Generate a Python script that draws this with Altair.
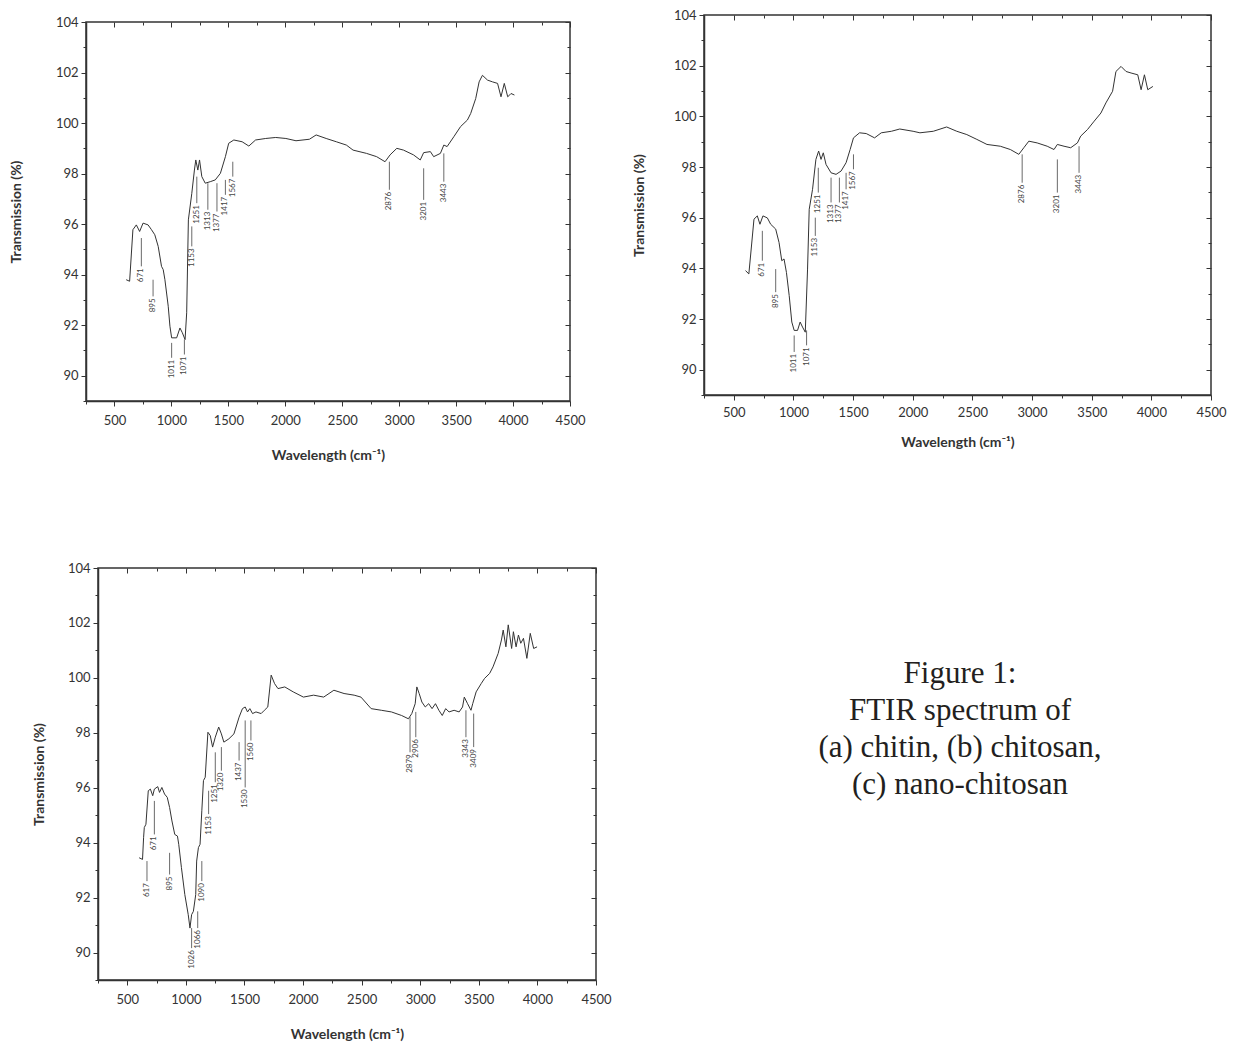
import altair as alt
import pandas as pd

# ---------------- (a) chitin ----------------
a_wn = [603, 633, 662, 692, 721, 751, 795, 825, 854, 884, 913, 928, 943, 972, 987, 1002, 1046, 1075, 1096, 1120,
        1134, 1149, 1179, 1202, 1214, 1232, 1247, 1267, 1297, 1341, 1385, 1430, 1474, 1503, 1548, 1621, 1680, 1739,
        1828, 1916, 2005, 2094, 2212, 2271, 2359, 2448, 2536, 2595, 2713, 2802, 2876, 2920, 2979, 3038, 3126, 3185,
        3215, 3274, 3303, 3362, 3392, 3421, 3480, 3539, 3599, 3628, 3672, 3702, 3731, 3776, 3820, 3864, 3894, 3923,
        3953, 3982, 4012]
a_t = [93.80, 93.74, 95.78, 95.97, 95.71, 96.04, 95.97, 95.78, 95.58, 95.12, 94.33, 94.20, 93.80, 92.75, 91.96,
       91.50, 91.50, 91.89, 91.70, 91.43, 92.49, 96.17, 97.22, 98.14, 98.54, 98.14, 98.54, 97.88, 97.62, 97.68,
       97.75, 98.01, 98.67, 99.20, 99.33, 99.26, 99.09, 99.33, 99.39, 99.43, 99.39, 99.30, 99.36, 99.53, 99.39,
       99.26, 99.13, 98.93, 98.80, 98.67, 98.47, 98.74, 99.00, 98.93, 98.74, 98.54, 98.83, 98.87, 98.67, 98.80,
       99.13, 99.07, 99.46, 99.86, 100.12, 100.38, 100.97, 101.63, 101.89, 101.70, 101.63, 101.57, 101.04, 101.57,
       101.04, 101.17, 101.11]
a_lab = ["671", "895", "1011", "1071", "1153", "1251", "1313", "1377", "1417", "1567", "2876", "3201", "3443"]
a_lab_wn = [736, 839, 1002, 1114, 1179, 1223, 1320, 1400, 1474, 1539, 2914, 3215, 3392]
a_lab_top = [95.45, 93.80, 91.30, 91.43, 95.91, 97.88, 97.62, 97.62, 97.75, 98.47, 98.47, 98.21, 98.80]
a_lab_bot = [94.33, 93.14, 90.71, 90.84, 95.12, 96.83, 96.57, 96.50, 97.16, 97.88, 97.36, 96.96, 97.68]

# ---------------- (b) chitosan ----------------
b_wn = [598, 626, 669, 697, 719, 744, 781, 809, 851, 879, 902, 921, 941, 964, 986, 1006, 1034, 1056, 1076, 1099,
        1118, 1132, 1160, 1188, 1211, 1231, 1250, 1273, 1315, 1357, 1399, 1441, 1475, 1503, 1554, 1610, 1680, 1736,
        1821, 1891, 2003, 2060, 2172, 2284, 2369, 2453, 2537, 2622, 2734, 2818, 2889, 2931, 2973, 3043, 3127, 3184,
        3212, 3268, 3324, 3380, 3408, 3465, 3521, 3577, 3619, 3675, 3703, 3746, 3788, 3830, 3886, 3914, 3942, 3970,
        4013]
b_t = [93.91, 93.78, 95.94, 96.07, 95.74, 96.07, 95.99, 95.74, 95.55, 95.02, 94.30, 94.37, 93.84, 92.93, 91.88,
       91.55, 91.55, 91.88, 91.68, 91.48, 93.97, 96.33, 97.12, 98.30, 98.63, 98.30, 98.56, 98.10, 97.77, 97.71,
       97.84, 98.17, 98.69, 99.15, 99.35, 99.32, 99.15, 99.35, 99.41, 99.50, 99.41, 99.35, 99.41, 99.58, 99.41,
       99.28, 99.09, 98.89, 98.82, 98.69, 98.50, 98.76, 99.02, 98.95, 98.82, 98.69, 98.89, 98.82, 98.76, 98.95,
       99.22, 99.48, 99.81, 100.13, 100.53, 100.99, 101.77, 101.97, 101.77, 101.71, 101.64, 101.05, 101.64, 101.05,
       101.18]
b_lab = ["671", "895", "1011", "1071", "1153", "1251", "1313", "1377", "1417", "1567", "2876", "3201", "3443"]
b_lab_wn = [739, 851, 1006, 1110, 1183, 1208, 1315, 1385, 1441, 1503, 2917, 3212, 3394]
b_lab_top = [95.48, 93.97, 91.35, 91.55, 96.00, 97.97, 97.58, 97.58, 97.77, 98.50, 98.50, 98.30, 98.82]
b_lab_bot = [94.30, 93.06, 90.70, 90.96, 95.28, 96.99, 96.60, 96.60, 97.12, 97.91, 97.38, 96.99, 97.77]

# ---------------- (c) nano-chitosan ----------------
c_wn = [601, 630, 639, 645, 659, 679, 697, 717, 731, 760, 775, 795, 818, 841, 861, 881, 905, 928, 939, 962,
        991, 1020, 1035, 1049, 1064, 1084, 1092, 1107, 1121, 1136, 1150, 1165, 1188, 1208, 1228, 1251, 1280, 1303,
        1324, 1367, 1410, 1454, 1483, 1506, 1526, 1546, 1569, 1598, 1642, 1670, 1699, 1728, 1757, 1786, 1844, 1916,
        2003, 2090, 2176, 2263, 2350, 2436, 2494, 2581, 2668, 2754, 2841, 2899, 2928, 2957, 2971, 2991, 3014, 3043,
        3072, 3101, 3130, 3159, 3188, 3217, 3246, 3289, 3332, 3361, 3376, 3404, 3433, 3448, 3477, 3520, 3549, 3592,
        3621, 3665, 3693, 3708, 3731, 3751, 3780, 3795, 3818, 3838, 3858, 3881, 3910, 3939, 3968, 3997]
c_t = [93.45, 93.39, 94.18, 94.55, 94.67, 95.89, 95.95, 95.71, 95.95, 96.04, 95.83, 96.01, 95.77, 95.65, 95.28,
       94.79, 94.30, 94.24, 93.94, 93.09, 92.11, 91.38, 90.89, 91.38, 91.50, 92.11, 93.33, 93.82, 93.94, 95.16,
       96.26, 96.38, 98.02, 97.90, 97.48, 97.84, 98.21, 97.96, 97.66, 97.78, 97.96, 98.57, 98.88, 98.94, 98.76,
       98.88, 98.70, 98.76, 98.70, 98.82, 98.94, 100.10, 99.79, 99.61, 99.67, 99.49, 99.30, 99.37, 99.30, 99.55,
       99.43, 99.37, 99.30, 98.88, 98.82, 98.76, 98.63, 98.51, 98.70, 99.06, 99.67, 99.43, 99.12, 98.94, 99.06,
       98.88, 99.06, 98.82, 98.63, 98.88, 98.76, 98.82, 98.76, 98.94, 99.30, 99.06, 98.82, 99.06, 99.49, 99.79,
       99.98, 100.16, 100.40, 100.89, 101.38, 101.74, 101.13, 101.93, 101.07, 101.68, 101.13, 101.56, 101.26,
       101.44, 100.71, 101.62, 101.07, 101.13]
c_lab = ["617", "671", "895", "1026", "1066", "1090", "1153", "1251", "1320", "1437", "1530", "1560", "2879",
         "2906", "3343", "3409"]
c_lab_wn = [668, 731, 861, 1049, 1101, 1136, 1194, 1251, 1303, 1454, 1506, 1555, 2913, 2962, 3390, 3456]
c_lab_top = [93.33, 95.52, 93.63, 90.89, 91.50, 93.33, 95.89, 97.29, 97.48, 97.66, 98.45, 98.45, 98.57, 98.76,
             98.82, 98.70]
c_lab_bot = [92.60, 94.30, 92.84, 90.16, 90.89, 92.60, 95.04, 96.20, 96.62, 96.99, 96.01, 97.72, 97.29, 97.84,
             97.84, 97.48]

caption_lines = ["Figure 1:", "FTIR spectrum of", "(a) chitin, (b) chitosan,", "(c) nano-chitosan"]

x_domain = [250, 4500]
y_domain = [89, 104]
x_major = [500, 1000, 1500, 2000, 2500, 3000, 3500, 4000, 4500]
x_minor = [750, 1250, 1750, 2250, 2750, 3250, 3750, 4250]
x_all = [250] + sorted(x_major + x_minor)
y_major = [90, 92, 94, 96, 98, 100, 102, 104]
y_minor = [91, 93, 95, 97, 99, 101, 103]
y_all = [89] + sorted(y_major + y_minor)

FONT = "Lato"
INK = "#333333"


def panel(wn, t, lab, lab_wn, lab_top, lab_bot, w, h, y_title_pad, x_label_pad, x_title_pad):
    df = pd.DataFrame({"wn": wn, "t": t})
    ldf = pd.DataFrame({"label": lab, "wn": lab_wn, "top": lab_top, "bot": lab_bot})
    xs = alt.Scale(domain=x_domain, nice=False, zero=False)
    ys = alt.Scale(domain=y_domain, nice=False, zero=False)

    main = alt.Chart(df).mark_line(color=INK, strokeWidth=1).encode(
        x=alt.X("wn:Q", scale=xs, axis=alt.Axis(
            values=x_all, format="d",
            labelExpr="datum.value % 500 === 0 ? datum.label : ''",
            tickSize={"condition": {"test": "datum.value % 500 === 0", "value": 5}, "value": 3},
            title="Wavelength (cm\u207b\u00b9)", labelPadding=x_label_pad, titlePadding=x_title_pad)),
        y=alt.Y("t:Q", scale=ys, axis=alt.Axis(
            values=y_all, format="d",
            labelExpr="datum.value % 2 === 0 ? datum.label : ''",
            tickSize={"condition": {"test": "datum.value % 2 === 0", "value": 5}, "value": 3},
            title="Transmission (%)", labelPadding=3, titlePadding=y_title_pad)),
    )
    ticks_major = alt.Chart(df).mark_line(strokeOpacity=0).encode(
        x=alt.X("wn:Q", scale=xs, axis=alt.Axis(orient="top", values=x_major, labels=False, domain=False,
                                                title=None, tickSize=5, offset=-5)),
        y=alt.Y("t:Q", scale=ys, axis=alt.Axis(orient="right", values=y_major, labels=False, domain=False,
                                               title=None, tickSize=5, offset=-5)),
    )
    ticks_minor = alt.Chart(df).mark_line(strokeOpacity=0).encode(
        x=alt.X("wn:Q", scale=xs, axis=alt.Axis(orient="top", values=x_minor, labels=False, domain=False,
                                                title=None, tickSize=3, offset=-3)),
        y=alt.Y("t:Q", scale=ys, axis=alt.Axis(orient="right", values=y_minor, labels=False, domain=False,
                                               title=None, tickSize=3, offset=-3)),
    )
    leaders = alt.Chart(ldf).mark_rule(color="#444444", strokeWidth=0.8).encode(
        x=alt.X("wn:Q", scale=xs, axis=None),
        y=alt.Y("top:Q", scale=ys, axis=None),
        y2="bot:Q",
    )
    texts = alt.Chart(ldf).mark_text(angle=270, align="right", baseline="middle", dx=-2, fontSize=8,
                                     font=FONT, color="#444444").encode(
        x=alt.X("wn:Q", scale=xs, axis=None),
        y=alt.Y("bot:Q", scale=ys, axis=None),
        text="label:N",
    )
    ch = alt.layer(main, ticks_major, ticks_minor, leaders, texts).resolve_axis(
        x="independent", y="independent")
    return ch.properties(width=w, height=h)


def spacer():
    return alt.Chart(pd.DataFrame({"k": [0]})).mark_rule(strokeOpacity=0).encode(
        x=alt.value(0), y=alt.value(0), y2=alt.value(1)
    ).properties(width=1, height=1, view=alt.ViewBackground(strokeOpacity=0))


pa = panel(a_wn, a_t, a_lab, a_lab_wn, a_lab_top, a_lab_bot, 484, 379, 32, 8, 21)
pb = panel(b_wn, b_t, b_lab, b_lab_wn, b_lab_top, b_lab_bot, 507, 380, 27, 6, 16)
pc = panel(c_wn, c_t, c_lab, c_lab_wn, c_lab_top, c_lab_bot, 498, 412, 21, 8, 21)

caption = alt.Chart(pd.DataFrame({"k": [0]})).mark_text(
    text=caption_lines, font="Liberation Serif", fontSize=31, lineHeight=37, align="center",
    baseline="top", color="#231f20"
).encode(x=alt.value(327), y=alt.value(91)).properties(
    width=560, height=412, view=alt.ViewBackground(strokeOpacity=0))

col_a = alt.vconcat(spacer(), pa, spacing=-1)
row1 = alt.hconcat(col_a, pb, spacing=45)
inner_c = alt.hconcat(spacer(), pc, spacing=-56)
row2 = alt.hconcat(inner_c, caption, spacing=21)

chart = alt.vconcat(row1, row2, spacing=98).properties(
    padding={"left": 0, "top": 0, "right": 0, "bottom": 0}
).configure_view(stroke=INK, strokeWidth=1.5).configure_axis(
    labelFont=FONT, labelFontSize=13, labelColor=INK, titleFont=FONT, titleFontSize=14,
    titleFontWeight="bold", titleColor=INK, tickColor=INK, tickWidth=1, domainColor=INK,
    domainWidth=1.5, grid=False, labelFlush=False, labelOverlap=False, minExtent=0
)

chart.save("out.html", embed_options={"renderer": "svg", "actions": False})
